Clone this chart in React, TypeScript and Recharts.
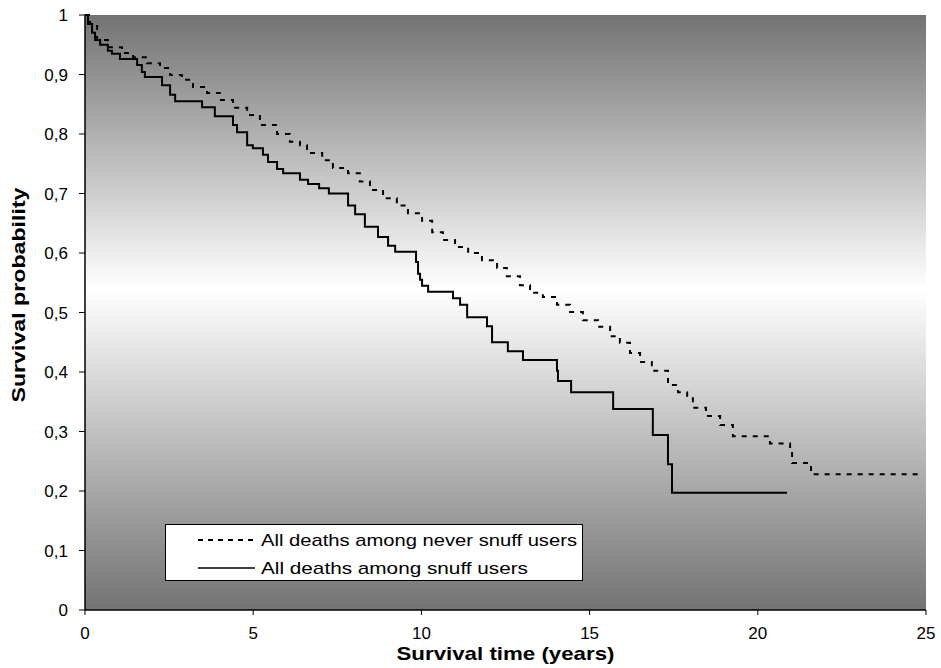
import React from 'react';
import { LineChart, Line, XAxis, YAxis, CartesianGrid, Legend } from 'recharts';

const neverTimes = [0, 0.15, 0.36, 0.68, 1.1, 1.43, 1.84, 2.23, 2.53, 2.88, 3.21, 3.63, 4.01, 4.4, 4.82, 5.2, 5.71, 6.09, 6.39, 6.6, 7.05, 7.37, 7.82, 8.17, 8.47, 8.86, 9.27, 9.6, 10.02, 10.32, 10.64, 11.0, 11.39, 11.8, 12.25, 12.54, 12.93, 13.23, 13.61, 14.03, 14.42, 14.8, 15.25, 15.61, 15.9, 16.2, 16.5, 16.85, 17.33, 17.63, 17.9, 18.07, 18.46, 18.88, 19.26, 20.36, 20.96, 21.02, 21.58, 24.82];
const neverSurv = [1, 0.985, 0.958, 0.946, 0.936, 0.929, 0.919, 0.911, 0.899, 0.891, 0.879, 0.869, 0.857, 0.844, 0.832, 0.815, 0.8, 0.787, 0.781, 0.768, 0.756, 0.743, 0.734, 0.72, 0.706, 0.692, 0.68, 0.667, 0.654, 0.635, 0.622, 0.61, 0.6, 0.588, 0.575, 0.561, 0.546, 0.533, 0.526, 0.513, 0.501, 0.487, 0.476, 0.46, 0.449, 0.432, 0.417, 0.402, 0.378, 0.366, 0.358, 0.34, 0.326, 0.311, 0.292, 0.28, 0.264, 0.247, 0.228, 0.228];

const snuffTimes = [0, 0.09, 0.21, 0.3, 0.45, 0.68, 0.8, 1.04, 1.55, 1.69, 1.78, 2.29, 2.53, 2.68, 3.48, 3.86, 4.4, 4.52, 4.82, 4.99, 5.29, 5.44, 5.71, 5.89, 6.39, 6.63, 6.96, 7.25, 7.82, 8.03, 8.32, 8.71, 9.01, 9.22, 9.84, 9.9, 9.96, 10.02, 10.2, 10.94, 11.15, 11.36, 11.95, 12.1, 12.57, 13.02, 14.03, 14.06, 14.45, 15.7, 16.88, 17.33, 17.45, 20.87];
const snuffSurv = [1, 0.985, 0.97, 0.958, 0.95, 0.94, 0.935, 0.926, 0.916, 0.904, 0.896, 0.882, 0.866, 0.855, 0.845, 0.83, 0.815, 0.803, 0.781, 0.776, 0.765, 0.753, 0.741, 0.734, 0.723, 0.716, 0.709, 0.7, 0.68, 0.665, 0.644, 0.627, 0.612, 0.602, 0.585, 0.565, 0.555, 0.545, 0.535, 0.524, 0.513, 0.492, 0.477, 0.45, 0.435, 0.42, 0.402, 0.385, 0.366, 0.338, 0.294, 0.245, 0.197, 0.197];

const xTicks = [0, 5, 10, 15, 20, 25];
const yTicks = [0, 0.1, 0.2, 0.3, 0.4, 0.5, 0.6, 0.7, 0.8, 0.9, 1];

const neverName = 'All deaths among never snuff users';
const snuffName = 'All deaths among snuff users';

const neverData = neverTimes.map((t, i) => ({ t, s: neverSurv[i] }));
const snuffData = snuffTimes.map((t, i) => ({ t, s: snuffSurv[i] }));

const FONT = '"Liberation Sans", Arial, sans-serif';

const fmtY = (v: number) => (v === 0 || v === 1 ? String(v) : v.toFixed(1).replace('.', ','));

const legendTextLengths: Record<string, number> = {
  [neverName]: 316,
  [snuffName]: 267,
};

const renderLegend = (props: any) => {
  const payload = props.payload || [];
  return (
    <svg width={418} height={57} style={{ display: 'block' }}>
      <rect x={0.5} y={0.5} width={417} height={56} fill="#ffffff" stroke="#000000" strokeWidth={1} />
      {payload.map((entry: any, i: number) => {
        const cy = 16 + i * 28;
        const dashed = !!(entry.payload && entry.payload.strokeDasharray);
        return (
          <g key={i}>
            <line x1={33} y1={cy} x2={90} y2={cy} stroke="#000" strokeWidth={dashed ? 2 : 1.3} strokeDasharray={dashed ? '5 5' : undefined} />
            <text x={96} y={cy} dy="0.35em" fontFamily={FONT} fontSize={17} fill="#000"
              textLength={legendTextLengths[entry.value]} lengthAdjust="spacingAndGlyphs">
              {entry.value}
            </text>
          </g>
        );
      })}
    </svg>
  );
};

const XLabel = (props: any) => {
  const vb = props.viewBox || { x: 85, y: 610, width: 841, height: 58 };
  return (
    <text x={vb.x + vb.width / 2} y={vb.y + 50} textAnchor="middle" fontFamily={FONT} fontWeight="bold"
      fontSize={18.5} fill="#000" textLength={218} lengthAdjust="spacingAndGlyphs">
      Survival time (years)
    </text>
  );
};

const YLabel = (props: any) => {
  const cx = 25;
  const cy = 295;
  return (
    <text x={cx} y={cy} textAnchor="middle" transform={`rotate(-90, ${cx}, ${cy})`} fontFamily={FONT}
      fontWeight="bold" fontSize={18.5} fill="#000" textLength={215} lengthAdjust="spacingAndGlyphs">
      Survival probability
    </text>
  );
};

export default function App() {
  return (
    <div style={{ position: 'absolute', left: 0, top: 0, width: 941, height: 668, background: '#ffffff' }}>
      <LineChart width={941} height={668} margin={{ top: 15, right: 15, bottom: 0, left: 0 }}>
        <defs>
          <linearGradient id="bgGrad" x1="0" y1="0" x2="0" y2="1">
            <stop offset="0%" stopColor="#737373" />
            <stop offset="46%" stopColor="#ffffff" />
            <stop offset="100%" stopColor="#737373" />
          </linearGradient>
        </defs>
        <CartesianGrid fill="url(#bgGrad)" horizontal={false} vertical={false} stroke="none" />
        <XAxis dataKey="t" type="number" domain={[0, 25]} ticks={xTicks} height={58}
          tickSize={5} tickMargin={12} axisLine={{ stroke: '#000', strokeWidth: 1.5 }} tickLine={{ stroke: '#000' }}
          tick={{ fill: '#000', fontSize: 17, fontFamily: FONT }} label={XLabel} allowDecimals={false} />
        <YAxis type="number" domain={[0, 1]} ticks={yTicks} width={85} tickSize={6} tickMargin={11}
          tickFormatter={fmtY} axisLine={{ stroke: '#000', strokeWidth: 1.5 }} tickLine={{ stroke: '#000' }}
          tick={{ fill: '#000', fontSize: 17, fontFamily: FONT }} label={YLabel} />
        <Line data={neverData} dataKey="s" name={neverName} type="stepAfter" stroke="#000" strokeWidth={2}
          strokeDasharray="5 6" dot={false} activeDot={false} isAnimationActive={false} />
        <Line data={snuffData} dataKey="s" name={snuffName} type="stepAfter" stroke="#000" strokeWidth={2}
          dot={false} activeDot={false} isAnimationActive={false} />
        <Legend layout="horizontal" verticalAlign="middle" align="center" content={renderLegend}
          wrapperStyle={{ left: 165, top: 524, width: 418, height: 57 }} />
      </LineChart>
    </div>
  );
}
